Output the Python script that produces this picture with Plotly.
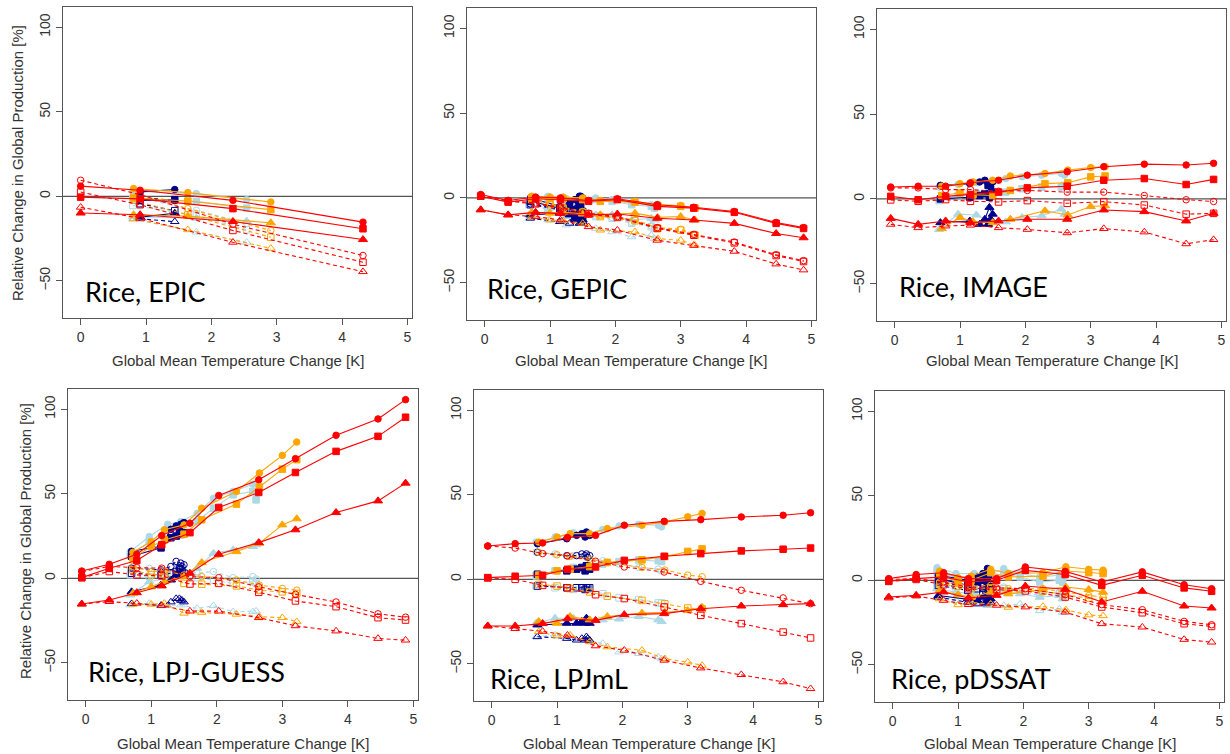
import plotly.graph_objects as go

# ---------------- temperatures (x values) ----------------
TEMP_85 = [-0.06, 0.36, 0.78, 1.16, 1.59, 2.03, 2.64, 3.20, 3.82, 4.46, 4.88]
TEMP_60 = [0.72, 1.0, 1.2, 1.5, 1.77, 2.3, 2.65, 3.0, 3.22]
TEMP_45 = [0.68, 0.97, 1.25, 1.45, 1.7, 1.95, 2.25, 2.55, 2.6]
TEMP_26 = [0.7, 1.15, 1.3, 1.38, 1.45, 1.5, 1.43, 1.47]
EPIC_TEMP_85 = [0.0, 0.91, 2.33, 4.32]
EPIC_TEMP_60 = [0.81, 1.64, 2.91]
EPIC_TEMP_45 = [0.8, 1.77, 2.54]
EPIC_TEMP_26 = [0.91, 1.44]

# series order in each list: [filled circle, filled square, filled triangle,
#                             open circle, open square, open triangle]
EPIC_85 = [[6, 3.6, -2.4, -15.3], [-0.5, -1.5, -7.3, -19.2], [-9.9, -10.9, -14.9, -25.6],
           [9.5, 1, -16.5, -35], [2.5, -5, -20.2, -39], [-6.5, -13, -27.2, -44.6]]
EPIC_60 = [[4.6, 2.2, -3.4], [-1, -2.8, -7.9], [-10.9, -11.7, -15.7],
           [1.6, -7.3, -20.2], [-2.4, -11, -24.2], [-13.3, -19.8, -30.8]]
EPIC_45 = [[3, 1.6, -2], [-1.5, -3, -7], [-12, -13, -14.7],
           [0, -8.3, -16], [-5.4, -11.3, -19.8], [-13.5, -21.2, -27.2]]
EPIC_26 = [[2.6, 4], [-2.4, -2], [-12.3, -10],
           [-0.5, -2.5], [-4.4, -8.5], [-13.3, -15]]

GEPIC_85 = [[2, -1.5, 0.5, 0, -1.5, -0.5, -4, -5.5, -8, -14.5, -17.5],
            [1, -2.5, -0.5, -1, -2, -1, -5, -6, -8.5, -15, -18],
            [-7, -10, -8.5, -9, -10, -9.5, -12, -13, -15, -21, -23.5],
            [1.5, -1.5, -3, -5.5, -9, -11, -17.5, -21.5, -26, -33.5, -37],
            [1, -2, -3.5, -6, -9.5, -11.5, -18, -22, -26.5, -34, -37.5],
            [-7, -10, -11, -13, -17, -19, -25, -28, -31.5, -39, -42.5]]
GEPIC_60 = [[1, 0.5, 0.5, 0, -1.5, -2, -4, -4.5, -6],
            [0, -0.5, -0.5, -1, -2, -2.5, -4.5, -5, -6],
            [-8.5, -9, -8.5, -9.5, -10, -9, -11.5, -11, -13],
            [-0.5, -3.5, -5.5, -8, -10.5, -13, -17.5, -18.5, -21.5],
            [-1, -4, -6, -8.5, -11, -13.5, -18, -19, -22],
            [-11, -13, -13.5, -15, -19, -20, -24, -25, -28]]
GEPIC_45 = [[-1, 1, -0.5, -1, 0, -1, -3, -4, -5],
            [-2, 0, -1.5, -2, -1, -2, -4, -5, -6],
            [-10, -8, -11, -10, -10, -10, -13, -12, -13],
            [-3.5, -6.5, -7.5, -9.5, -10.5, -11.5, -14.5, -16.5, -17.5],
            [-4, -7, -8, -10, -11, -12, -15, -17, -18],
            [-12, -13, -16, -15, -18, -20, -23, -22, -24]]
GEPIC_26 = [[0, -5, -3, -1, 1, 0, -2, 1],
            [-2, -6, -5, -7, -5, -8, -6, -4],
            [-10, -9, -10, -12, -11, -13, -12, -10],
            [-3.5, -6.5, -8.5, -9.5, -8.5, -11.5, -10.5, -9.5],
            [-4, -7, -9, -10, -9, -12, -11, -10],
            [-12, -14, -15, -13, -15, -14, -13, -15]]

IMAGE_85 = [[7, 7.5, 7.5, 9.5, 11, 14, 16, 19, 20.5, 20, 21],
            [1.5, -0.5, 1.5, 2.5, 4, 6.5, 7.5, 11, 12, 8.5, 11.5],
            [-11.5, -15, -13, -14, -13, -12, -12, -6.5, -7.5, -13, -8.5],
            [6.5, 6.5, 5.5, 5.5, 4.5, 5, 4, 4, 2, -0.5, -1.5],
            [-0.6, -1.4, -0.4, -1.4, -1.8, -1, -2.6, -1.6, -3.6, -9, -8.5],
            [-15, -17, -16, -15.5, -17, -18, -20, -17.5, -19.5, -26.5, -24]]
IMAGE_60 = [[7.5, 9, 10, 11, 13.5, 15, 17, 18.5, 19],
            [2, 3.5, 2.5, 2, 5, 9, 9.5, 13, 13.5],
            [-17.5, -11, -13.5, -14, -12, -7, -9.5, -4.5, -4],
            None, None, None]
IMAGE_45 = [[7, 8.5, 9.5, 10, 12, 13, 14, 15, 14],
            [-1, 2, 3, 5, 4, 6, 7, 7, 8],
            [-18, -9, -9.5, -13, -13.5, -11, -10, -6, -9],
            None, None, None]
IMAGE_26 = [[8, 9, 10, 11, 8, 10, 9, 7],
            [0, 1, 2, 3, 1, 4, 8, 2],
            [-14, -13, -15, -12, -5, -9, -15, -12],
            None, None, None]

LPJGUESS_85 = [[4.3, 8.3, 14.2, 25.3, 32.6, 49, 58.3, 70.8, 84.6, 94.3, 105.7],
               [0.4, 5.9, 10.5, 19.8, 27, 41.9, 50.8, 62.6, 75.1, 84, 95.3],
               [-15.2, -12.8, -8.5, -4.5, 3, 14.2, 21.1, 28.7, 38.9, 45.8, 56.3],
               [4, 7, 6.3, 6, 1, 0.4, -5, -9.5, -14, -21, -23],
               [0.4, 4, 2, 1.4, -3.4, -3, -8.3, -13.4, -16.8, -23.3, -24.7],
               [-15.2, -13.8, -14.8, -16.2, -19.4, -19.4, -23.3, -28.1, -31.2, -35.6, -36.6]]
LPJGUESS_60 = [[15.4, 21.7, 28.7, 31.6, 41.5, 51.4, 62.3, 72.7, 80.6],
               [11.9, 18.8, 22.7, 26.1, 34.6, 43.9, 54, 64.6, 70.2],
               [-8.9, -5, -2, 1, 9.3, 15.8, 20.8, 31.6, 35.2],
               [7, 4, 4.5, 2, 1, -1, -4, -6, -7],
               [5, 2, 2.5, -3, -3.5, -4.5, -7, -8, -9],
               [-15.4, -15.4, -14.8, -20.7, -20.2, -21.3, -22.7, -23.3, -25.7]]
LPJGUESS_45 = [[15.8, 24.7, 32, 33.6, 38.5, 47.4, 51.4, 55.7, 47.4],
               [13.8, 21.7, 28.7, 29.6, 33.6, 41.5, 49.4, 51.4, 46.4],
               [-9.9, -2, 0, 2, 5.9, 14.8, 16.8, 18.8, 19.8],
               [5.9, 5.9, 4, 5.9, 3, 4, 0.4, 1, -0.4],
               [2, 1, 1.4, 2, 0.4, -1, -3, -2, -3],
               [-15.8, -14.8, -16.2, -15.8, -17.8, -16.2, -19.8, -19.8, -19.4]]
LPJGUESS_26 = [[16, 19, 29, 31, 32, 33, 30, 32],
               [13, 18, 24, 25, 26, 27, 28, 26],
               [-8, -4, -1, 2, 3, 2, 1, 3],
               [6, 5, 7, 10, 9, 8, 6, 7],
               [3, 2, 3, 4, 5, 3, 6, 4],
               [-15, -16, -14, -12, -13, -14, -12, -13]]

LPJML_85 = [[19.7, 21.1, 21.5, 24.7, 26, 32, 34.3, 35.3, 36.9, 37.9, 39.4],
            [1, 1.8, 2.4, 5.9, 7.3, 11.2, 13.6, 15.2, 16.8, 17.8, 18.5],
            [-27.6, -27.6, -26.2, -23.3, -24.3, -20.9, -20.3, -17.4, -15.8, -15, -14.4],
            [19.7, 18.5, 15.2, 13.8, 10.7, 7.3, 4.3, -1.2, -6.5, -11, -14.4],
            [0.8, 0, -3.6, -5.1, -9.1, -11.4, -16.4, -21.3, -26.2, -31.2, -34.7],
            [-27.6, -29.2, -30.8, -33.1, -39.4, -42, -47.9, -52.5, -56.4, -60.7, -64.7]]
LPJML_60 = [[22, 25, 27, 27, 30, 32, 34, 37, 39],
            [2.5, 5, 6, 7.5, 10, 11.5, 13.5, 16.5, 18],
            [-25, -26, -22, -24, -22, -20, -19.5, -18.5, -16.5],
            [16, 14.5, 13.5, 12, 10, 7, 5.5, 2.5, 1.5],
            [-3, -4, -5.5, -7.5, -10, -12.5, -14.5, -17, -17.5],
            [-31, -33.5, -33, -37, -40, -42, -47, -49, -51]]
LPJML_45 = [[22, 25, 27.5, 27, 29.5, 31.5, 32.5, 32, 31],
            [2, 5, 7, 8, 9, 10.5, 11.5, 11, 10.5],
            [-26, -23, -23, -25, -24, -23.5, -22, -24, -25],
            [16, 15, 14, 13, 11, 9, 7, 6, 5],
            [-4, -5, -6, -6, -8.5, -11, -12, -14, -14],
            [-34, -33, -35, -36, -38, -43, -44, -46, -47]]
LPJML_26 = [[21, 24, 26, 27, 28, 26, 25, 27],
            [3, 5, 6, 7, 8, 6, 5, 7],
            [-27, -26, -26, -25, -23, -26, -26, -24],
            [16, 14, 14, 15, 15, 14, 14, 13],
            [-4, -5, -5, -5, -5, -5, -6, -5],
            [-34, -35, -36, -35, -34, -36, -36, -35]]

PDSSAT_85 = [[1, 3.4, 4.5, 1, 1, 7.9, 5.3, -1, 5, -2.6, -5],
             [-0.6, 1, 2, -1, 0, 5.9, 3.4, -3, 3, -4.5, -6.5],
             [-9.9, -8.9, -6.9, -10.5, -8.9, -3.4, -5.3, -12.8, -6.5, -15.2, -16.4],
             [0.5, 1, -1, -4, -4.5, -5, -8.5, -14.4, -17.4, -24.3, -26.3],
             [-0.6, 0.5, -2.6, -5, -5.5, -6.3, -9.9, -15.8, -19.2, -25.7, -27.3],
             [-10.5, -9.3, -11.9, -14.4, -14.8, -15.8, -18.8, -25.7, -27.7, -35, -36.6]]
PDSSAT_60 = [[5.5, 1.5, 2.5, 6.5, 4, 4.5, 8, 6.5, 6],
             [3.5, -1, 0, 4.5, 2, 2.5, 5.5, 4.5, 4],
             [-6, -8.5, -10, -7, -8, -5.5, -4, -5.5, -7],
             [-1, -2, -3.5, -3, -5, -5, -7, -9, -10],
             [-2, -3.5, -5, -4.5, -6.5, -6.5, -8.5, -10.5, -12],
             [-11, -14.5, -13, -14, -16, -15.5, -17.5, -20.5, -21]]
PDSSAT_45 = [[7.5, 4, 4, 3, 7, 4, 2, 3, 1],
             [5, 1.5, 1, 0, 4, 2, -1, 0, -1],
             [-5, -7, -8, -10, -7, -8, -10, -9, -11],
             [-2, -4, -5, -6, -4, -6, -8, -7, -8],
             [-3, -5, -6, -7, -5, -7, -9, -8, -9],
             [-10, -12, -14, -15, -15, -14, -18, -17, -19]]
PDSSAT_26 = [[3, 0, 2, 4, 7, 5, 3, 6],
             [1, -3, -1, 0, 2, -2, 0, 3],
             [-9, -11, -12, -10, -8, -11, -13, -9],
             [-1, -4, -3, -5, -3, -6, -4, -2],
             [-3, -6, -5, -7, -5, -8, -6, -4],
             [-10, -13, -14, -12, -11, -13, -14, -12]]

PANEL_LABELS = ["Rice, EPIC", "Rice, GEPIC", "Rice, IMAGE",
                "Rice, LPJ-GUESS", "Rice, LPJmL", "Rice, pDSSAT"]
X_TICKS = [0, 1, 2, 3, 4, 5]
Y_TICKS = [-50, 0, 50, 100]
Y_TICKTEXT = ["\u221250", "0", "50", "100"]
X_TITLE = "Global Mean Temperature Change [K]"
Y_TITLE = "Relative Change in Global Production [%]"

# ---------------- assemble ----------------
COLORS = {"45": "#ADD8E6", "26": "#00008B", "60": "#FFA500", "85": "#FF0000"}
RCP_ORDER = ["45", "26", "60", "85"]

std_temps = {"26": TEMP_26, "45": TEMP_45, "60": TEMP_60, "85": TEMP_85}
epic_temps = {"26": EPIC_TEMP_26, "45": EPIC_TEMP_45, "60": EPIC_TEMP_60, "85": EPIC_TEMP_85}

MODELS = [
    (epic_temps, {"26": EPIC_26, "45": EPIC_45, "60": EPIC_60, "85": EPIC_85}),
    (std_temps, {"26": GEPIC_26, "45": GEPIC_45, "60": GEPIC_60, "85": GEPIC_85}),
    (std_temps, {"26": IMAGE_26, "45": IMAGE_45, "60": IMAGE_60, "85": IMAGE_85}),
    (std_temps, {"26": LPJGUESS_26, "45": LPJGUESS_45, "60": LPJGUESS_60, "85": LPJGUESS_85}),
    (std_temps, {"26": LPJML_26, "45": LPJML_45, "60": LPJML_60, "85": LPJML_85}),
    (std_temps, {"26": PDSSAT_26, "45": PDSSAT_45, "60": PDSSAT_60, "85": PDSSAT_85}),
]

SYMBOLS = ["circle", "square", "triangle-up", "circle-open", "square-open", "triangle-up-open"]
SIZES = [6.5, 6.5, 8, 6.5, 6.5, 7.5]

# panel plot-area pixel boxes (left, top, right, bottom)
BOXES = [(63, 7, 412, 318), (467, 8, 816, 320), (877, 9, 1226, 321),
         (68, 389, 418, 700), (474, 390, 823, 701), (875, 391, 1224, 702)]
LABEL_POS = [(83, 291), (485, 288), (897, 287), (86, 671), (488, 678), (889, 678)]
W, H = 1230, 754

fig = go.Figure()
layout = dict(width=W, height=H, margin=dict(l=0, r=0, t=0, b=0),
              paper_bgcolor="white", plot_bgcolor="white", showlegend=False,
              annotations=[], shapes=[])

axfont = dict(family="Liberation Sans, Arial, sans-serif", size=14, color="#333333")

for i, (temps, data) in enumerate(MODELS):
    n = i + 1
    xa = "x" if n == 1 else f"x{n}"
    ya = "y" if n == 1 else f"y{n}"
    for rcp in RCP_ORDER:
        series = data[rcp]
        xs = temps[rcp]
        for k in [3, 4, 5, 0, 1, 2]:
            ys = series[k]
            if ys is None:
                continue
            is_open = k >= 3
            fig.add_trace(go.Scatter(
                x=xs, y=ys, xaxis=xa, yaxis=ya, mode="lines+markers",
                line=dict(color=COLORS[rcp], width=1.1, dash="4px,3px" if is_open else "solid"),
                marker=dict(symbol=SYMBOLS[k], size=SIZES[k], color=COLORS[rcp],
                            line=dict(color=COLORS[rcp], width=1)),
                hoverinfo="skip"))
    l, t, r, b = BOXES[i]
    dom_x = [l / W, r / W]
    dom_y = [1 - b / H, 1 - t / H]
    layout["xaxis" if n == 1 else f"xaxis{n}"] = dict(
        domain=dom_x, anchor=ya, range=[-0.27, 5.07], tickvals=X_TICKS,
        ticks="outside", ticklen=6, tickcolor="#555", showline=True, mirror=True,
        linecolor="#555", linewidth=1, showgrid=False, zeroline=False, tickfont=axfont)
    layout["yaxis" if n == 1 else f"yaxis{n}"] = dict(
        domain=dom_y, anchor=xa, range=[-72, 112], tickvals=Y_TICKS, ticktext=Y_TICKTEXT,
        tickangle=-90, ticks="outside", ticklen=6, tickcolor="#555", showline=True,
        mirror=True, linecolor="#555", linewidth=1, showgrid=False, zeroline=False,
        tickfont=axfont)
    layout["shapes"].append(dict(type="line", xref=f"{xa} domain", yref=ya, x0=0, x1=1,
                                 y0=0, y1=0, line=dict(color="#555", width=1.2), layer="below"))
    # panel label
    lx, ly = LABEL_POS[i]
    layout["annotations"].append(dict(
        text=PANEL_LABELS[i], x=lx / W, y=1 - ly / H, xref="paper", yref="paper",
        xanchor="left", yanchor="middle", showarrow=False,
        font=dict(family="Lato, Open Sans, sans-serif", size=27, color="black")))
    # x title
    xt_y = 360 if n <= 3 else 743
    layout["annotations"].append(dict(
        text=X_TITLE, x=(l + r) / 2 / W, y=1 - xt_y / H, xref="paper", yref="paper",
        xanchor="center", yanchor="middle", showarrow=False,
        font=dict(family="Liberation Sans, Arial, sans-serif", size=15, color="#333333")))

# y titles (left column)
for (yx, yc) in [(18, 163), (25, 541)]:
    layout["annotations"].append(dict(
        text=Y_TITLE, x=yx / W, y=1 - yc / H, xref="paper", yref="paper", textangle=-90,
        xanchor="center", yanchor="middle", showarrow=False,
        font=dict(family="Liberation Sans, Arial, sans-serif", size=15, color="#333333")))

fig.update_layout(**layout)
fig.write_html("out.html", config={"displayModeBar": False},
               post_script="document.body.style.margin='0';document.body.style.overflow='hidden';")
